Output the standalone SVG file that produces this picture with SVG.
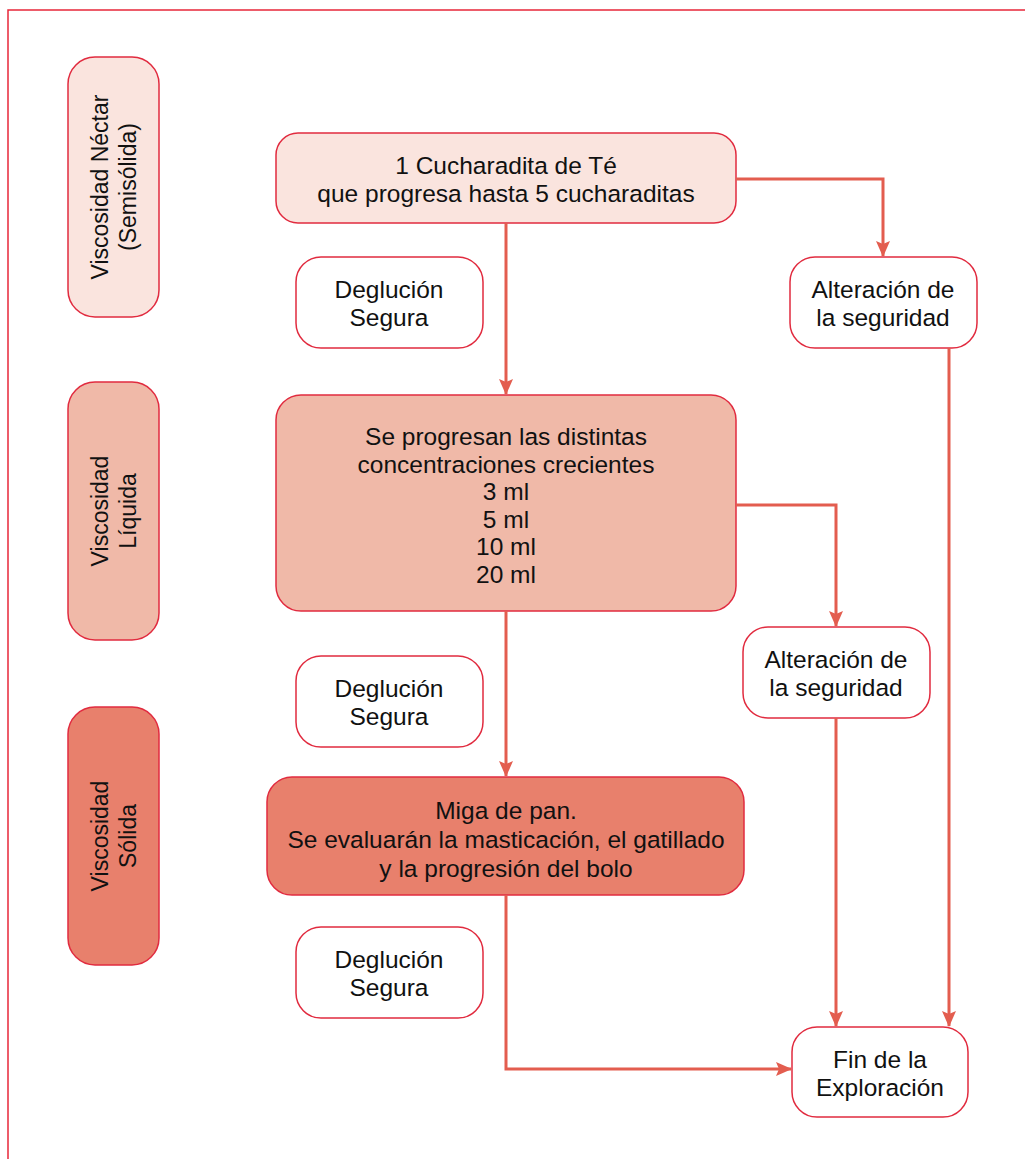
<svg xmlns="http://www.w3.org/2000/svg" width="1025" height="1159" viewBox="0 0 1025 1159">
<defs>
<marker id="ah" markerWidth="16" markerHeight="14" viewBox="0 0 16 14" refX="15" refY="7" orient="auto" markerUnits="userSpaceOnUse">
<path d="M0,0 L16,7 L0,14 L3,7 Z" fill="#e35d4f"/>
</marker>
<style>
.n{stroke:#e12b3f;stroke-width:1.5}
.l1{fill:#fae4de}
.l2{fill:#f0b9a8}
.l3{fill:#e8806c}
.w{fill:#ffffff}
text{font-family:"Liberation Sans",Arial,sans-serif;font-size:24.5px;fill:#111;text-anchor:middle}
.v{font-size:23px}
.c{fill:none;stroke:#e35d4f;stroke-width:3}
</style>
</defs>
<rect width="1025" height="1159" fill="#ffffff"/>
<path d="M8,1159 V10 H1025" fill="none" stroke="#e8273a" stroke-width="1.5"/>

<g id="lbl-nectar">
<rect class="n l1" x="68" y="57" width="91" height="260" rx="27"/>
<g transform="rotate(-90 113 187)">
<text class="v" x="113" y="182">Viscosidad Néctar</text>
<text class="v" x="113" y="210">(Semisólida)</text>
</g>
</g>
<g id="lbl-liquida">
<rect class="n l2" x="68" y="382" width="91" height="258" rx="27"/>
<g transform="rotate(-90 113 511)">
<text class="v" x="113" y="506">Viscosidad</text>
<text class="v" x="113" y="534">Líquida</text>
</g>
</g>
<g id="lbl-solida">
<rect class="n l3" x="68" y="707" width="91" height="258" rx="27"/>
<g transform="rotate(-90 113 836)">
<text class="v" x="113" y="831">Viscosidad</text>
<text class="v" x="113" y="859">Sólida</text>
</g>
</g>

<g id="n-cucharadita">
<rect class="n l1" x="276" y="133" width="460" height="90" rx="22"/>
<text x="506" y="174">1 Cucharadita de Té</text>
<text x="506" y="202">que progresa hasta 5 cucharaditas</text>
</g>
<g id="n-deg1">
<rect class="n w" x="296" y="257" width="187" height="91" rx="25"/>
<text x="389" y="298">Deglución</text>
<text x="389" y="326">Segura</text>
</g>
<g id="n-alt1">
<rect class="n w" x="790" y="257" width="187" height="91" rx="25"/>
<text x="883" y="298">Alteración de</text>
<text x="883" y="326">la seguridad</text>
</g>
<g id="n-concentraciones">
<rect class="n l2" x="276" y="395" width="460" height="216" rx="25"/>
<text x="506" y="445">Se progresan las distintas</text>
<text x="506" y="472.6">concentraciones crecientes</text>
<text x="506" y="500.2">3 ml</text>
<text x="506" y="527.8">5 ml</text>
<text x="506" y="555.4">10 ml</text>
<text x="506" y="583">20 ml</text>
</g>
<g id="n-alt2">
<rect class="n w" x="743" y="627" width="187" height="91" rx="25"/>
<text x="836" y="668">Alteración de</text>
<text x="836" y="696">la seguridad</text>
</g>
<g id="n-deg2">
<rect class="n w" x="296" y="656" width="187" height="91" rx="25"/>
<text x="389" y="697">Deglución</text>
<text x="389" y="725">Segura</text>
</g>
<g id="n-miga">
<rect class="n l3" x="267" y="777" width="477" height="118" rx="25"/>
<text x="506" y="819">Miga de pan.</text>
<text x="506" y="848">Se evaluarán la masticación, el gatillado</text>
<text x="506" y="877">y la progresión del bolo</text>
</g>
<g id="n-deg3">
<rect class="n w" x="296" y="927" width="187" height="91" rx="25"/>
<text x="389" y="968">Deglución</text>
<text x="389" y="996">Segura</text>
</g>
<g id="n-fin">
<rect class="n w" x="792" y="1027" width="176" height="90" rx="25"/>
<text x="880" y="1068">Fin de la</text>
<text x="880" y="1096">Exploración</text>
</g>

<g id="connectors">
<path class="c" d="M506,223 V394" marker-end="url(#ah)"/>
<path class="c" d="M736,179 H883 V256" marker-end="url(#ah)"/>
<path class="c" d="M949,348 V1026" marker-end="url(#ah)"/>
<path class="c" d="M736,505 H836 V626" marker-end="url(#ah)"/>
<path class="c" d="M836,718 V1026" marker-end="url(#ah)"/>
<path class="c" d="M506,611 V776" marker-end="url(#ah)"/>
<path class="c" d="M506,895 V1069 H791" marker-end="url(#ah)"/>
</g>
</svg>
